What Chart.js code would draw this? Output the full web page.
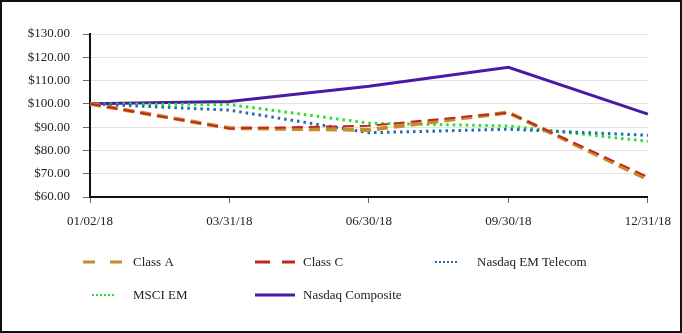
<!DOCTYPE html>
<html>
<head>
<meta charset="utf-8">
<script src="https://cdn.jsdelivr.net/npm/chart.js@4"></script>
<style>
  html, body { margin: 0; padding: 0; background: #fff; }
  #grafica { display: block; }
</style>
</head>
<body>
<canvas id="grafica" width="682" height="333"></canvas>
<script>
const $grafica = document.querySelector("#grafica");

const fechas = ["01/02/18", "03/31/18", "06/30/18", "09/30/18", "12/31/18"];
const nombres = ["Class A", "Class C", "Nasdaq EM Telecom", "MSCI EM", "Nasdaq Composite"];

const claseA = [100, 89.6, 88.8, 96.3, 67.6];
const claseC = [100, 89.4, 90.6, 96.2, 68.6];
const emTelecom = [100, 97.3, 87.6, 89.1, 86.5];
const msciEm = [100, 99.7, 91.7, 90.5, 83.9];
const nasdaqComp = [100, 101.0, 107.6, 115.7, 95.6];

const fuente = '"Liberation Serif", "Times New Roman", serif';

// where each legend entry sits (sample start, sample end, text x, row y)
const posLeyenda = [
    [83, 123, 133, 262],
    [255, 295, 303, 262],
    [435, 458, 477, 262],
    [92, 115, 133, 295],
    [255, 295, 303, 295],
];

const leyenda = {
    id: "leyenda",
    afterDraw(chart) {
        const ctx = chart.ctx;
        ctx.save();
        chart.data.datasets.forEach((ds, i) => {
            const [x0, x1, xt, y] = posLeyenda[i];
            ctx.beginPath();
            ctx.strokeStyle = ds.borderColor;
            ctx.lineWidth = ds.legendWidth || ds.borderWidth;
            ctx.setLineDash(ds.legendDash || []);
            ctx.moveTo(x0, y);
            ctx.lineTo(x1, y);
            ctx.stroke();
            ctx.setLineDash([]);
            ctx.fillStyle = "#222";
            ctx.font = "13px " + fuente;
            ctx.textBaseline = "middle";
            ctx.fillText(ds.label, xt, y + 1);
        });
        // outer frame
        ctx.strokeStyle = "#111";
        ctx.lineWidth = 2;
        ctx.strokeRect(1, 1, 680, 331);
        ctx.restore();
    }
};

new Chart($grafica, {
    type: "line",
    data: {
        labels: fechas,
        datasets: [
            {
                label: nombres[0], data: claseA,
                borderColor: "#C68B2C", borderWidth: 4,
                borderDash: [11, 6], legendDash: [12, 15], legendWidth: 3, order: 2,
            },
            {
                label: nombres[1], data: claseC,
                borderColor: "#C2281C", borderWidth: 2,
                borderDash: [11, 6], legendDash: [15, 12], legendWidth: 3, order: 1,
            },
            {
                label: nombres[2], data: emTelecom,
                borderColor: "#1F6CB2", borderWidth: 3,
                borderDash: [2.5, 4], legendDash: [2, 2], legendWidth: 2, order: 3,
            },
            {
                label: nombres[3], data: msciEm,
                borderColor: "#28E028", borderWidth: 3,
                borderDash: [2.5, 4], legendDash: [2, 2], legendWidth: 2, order: 4,
            },
            {
                label: nombres[4], data: nasdaqComp,
                borderColor: "#4A1AA3", borderWidth: 3, order: 5,
            },
        ]
    },
    options: {
        responsive: false,
        animation: false,
        devicePixelRatio: 1,
        elements: { point: { radius: 0 }, line: { tension: 0, fill: false } },
        layout: { padding: { left: 0, right: 33, top: 34, bottom: 0 } },
        plugins: { legend: { display: false }, tooltip: { enabled: false } },
        scales: {
            x: {
                offset: false,
                afterFit(scale) { scale.height = 136; },
                grid: { drawOnChartArea: false, tickLength: 6, tickColor: "#666" },
                border: { color: "#111", width: 2 },
                ticks: { color: "#222", padding: 11, maxRotation: 0, font: { family: fuente, size: 13 } },
            },
            y: {
                min: 60, max: 130,
                afterFit(scale) { scale.width = 90; },
                grid: { color: "#e2e2e2", tickLength: 7, tickColor: "#666" },
                border: { color: "#111", width: 2 },
                ticks: {
                    stepSize: 10, color: "#222", padding: 13,
                    font: { family: fuente, size: 13 },
                    callback: v => "$" + v.toFixed(2),
                },
            },
        },
    },
    plugins: [leyenda],
});
</script>
</body>
</html>
